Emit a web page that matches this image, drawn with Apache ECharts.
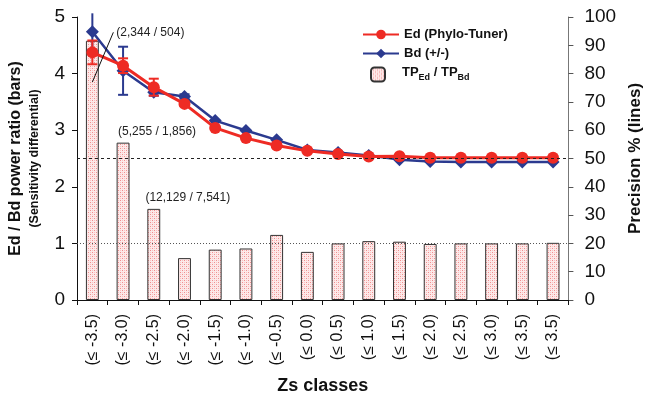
<!DOCTYPE html>
<html>
<head>
<meta charset="utf-8">
<script src="https://cdn.jsdelivr.net/npm/echarts@6/dist/echarts.min.js"></script>
<style>
  html, body { margin: 0; padding: 0; background: #fff; }
  #chart { width: 652px; height: 403px; }
</style>
</head>
<body>
<div id="chart"></div>
<script>
// Zs class labels along the x axis
const zsClasses = ['(≤ -3.5)', '(≤ -3.0)', '(≤ -2.5)', '(≤ -2.0)', '(≤ -1.5)', '(≤ -1.0)', '(≤ -0.5)', '(≤ 0.0)',
                   '(≤ 0.5)', '(≤ 1.0)', '(≤ 1.5)', '(≤ 2.0)', '(≤ 2.5)', '(≤ 3.0)', '(≤ 3.5)', '(≤ 3.5)'];

// Ed / Bd power ratio (bars, left axis)
const powerRatio = [4.58, 2.78, 1.61, 0.74, 0.89, 0.91, 1.15, 0.85, 1.00, 1.04, 1.03, 0.99, 1.00, 1.00, 1.00, 1.01];

// TP counts written above the first bars
const tpCounts = ['(2,344 / 504)', '(5,255 / 1,856)', '(12,129 / 7,541)'];

// Precision % (lines, right axis) with half-widths of the error bars
const edPrecision = [87.5, 82.8, 75.2, 69.3, 60.8, 57.2, 54.6, 52.7, 51.6, 50.7, 50.8, 50.3, 50.3, 50.3, 50.3, 50.3];
const edError     = [4.2, 2.6, 3.0, 0.8, 0, 0, 0, 0, 0, 0, 0, 0, 0, 0, 0, 0];
const bdPrecision = [94.8, 81.0, 73.4, 71.9, 63.4, 59.9, 56.6, 53.0, 52.1, 51.1, 49.6, 48.9, 48.8, 48.8, 48.8, 48.8];
const bdError     = [6.5, 8.5, 1.2, 0.8, 0, 0, 0, 0, 0, 0, 0, 0, 0, 0, 0, 0];

// Left / right axis ranges
const ratioAxis = { min: 0, max: 5, interval: 1 };
const precisionAxis = { min: 0, max: 100, interval: 10 };

const RED = '#ee2b24';
const BLUE = '#2b3a8f';
const FONT = 'Liberation Sans, Arial, sans-serif';

// Dotted pink fill used for the bars
function dotPattern() {
  const c = document.createElement('canvas');
  c.width = 4; c.height = 4;
  const g = c.getContext('2d');
  g.fillStyle = '#fde9e9';
  g.fillRect(0, 0, 4, 4);
  g.fillStyle = '#f08f8f';
  g.fillRect(0, 0, 1, 1);
  g.fillRect(2, 2, 1, 1);
  g.fillStyle = '#f8c4c4';
  g.fillRect(2, 0, 1, 1);
  g.fillRect(0, 2, 1, 1);
  return { image: c, repeat: 'repeat' };
}
const barFill = dotPattern();

function errorRenderer(color) {
  return function (params, api) {
    const i = api.value(0), v = api.value(1), e = api.value(2);
    if (!e) return null;
    const top = api.coord([i, v + e]);
    const bot = api.coord([i, v - e]);
    const cap = 5;
    const style = { stroke: color, lineWidth: 2 };
    const children = [
      { type: 'line', shape: { x1: top[0], y1: top[1], x2: bot[0], y2: bot[1] }, style }
    ];
    if (v + e <= precisionAxis.max) {
      children.push({ type: 'line', shape: { x1: top[0] - cap, y1: top[1], x2: top[0] + cap, y2: top[1] }, style });
    }
    children.push({ type: 'line', shape: { x1: bot[0] - cap, y1: bot[1], x2: bot[0] + cap, y2: bot[1] }, style });
    return { type: 'group', children };
  };
}

const barData = powerRatio.map((v, i) => {
  const item = { value: v };
  if (tpCounts[i]) {
    item.label = {
      show: true,
      position: 'top',
      formatter: tpCounts[i],
      offset: i === 0 ? [58, 3] : [34, 0],
      fontSize: 12,
      color: '#222',
      fontFamily: FONT
    };
  }
  return item;
});

const chart = echarts.init(document.getElementById('chart'), null, { renderer: 'canvas' });

chart.setOption({
  animation: false,
  backgroundColor: '#fff',
  textStyle: { fontFamily: FONT },
  grid: { left: 77, right: 69, top: 17, bottom: 103, containLabel: false },
  legend: [
    {
      data: ['Ed (Phylo-Tuner)', 'Bd (+/-)'],
      orient: 'vertical',
      left: 357,
      top: 23,
      itemWidth: 36,
      itemHeight: 12,
      itemGap: 6,
      textStyle: { fontSize: 13, fontWeight: 'bold', color: '#111', fontFamily: FONT },
      selectedMode: false
    },
    {
      data: ['TP_Ed / TP_Bd'],
      left: 365,
      top: 61,
      itemWidth: 14,
      itemHeight: 14,
      selectedMode: false,
      formatter: () => '{f|TP}{s|Ed}{m| / TP}{s|Bd}',
      textStyle: {
        fontFamily: FONT,
        rich: {
          f: { fontSize: 13, fontWeight: 'bold', color: '#111', fontFamily: FONT, padding: [0, 0, 4, 12] },
          m: { fontSize: 13, fontWeight: 'bold', color: '#111', fontFamily: FONT, padding: [0, 0, 4, 0] },
          s: { fontSize: 9, fontWeight: 'bold', color: '#111', fontFamily: FONT, padding: [6, 0, 0, 0] }
        }
      }
    }
  ],
  xAxis: {
    type: 'category',
    data: zsClasses,
    name: 'Zs classes',
    nameLocation: 'middle',
    nameGap: 77,
    nameTextStyle: { fontSize: 18, fontWeight: 'bold', color: '#111', fontFamily: FONT },
    axisLine: { lineStyle: { color: '#111', width: 1 } },
    axisTick: { show: true, alignWithLabel: false, length: 5, lineStyle: { color: '#111' } },
    axisLabel: { rotate: 90, fontSize: 16, color: '#111', margin: 14, fontFamily: FONT },
    splitLine: { show: false }
  },
  yAxis: [
    {
      type: 'value',
      min: ratioAxis.min, max: ratioAxis.max, interval: ratioAxis.interval,
      position: 'left',
      name: '{a|Ed / Bd power ratio (bars)}\n{b|(Sensitivity differential)}',
      nameLocation: 'middle',
      nameGap: 34,
      nameTextStyle: {
        fontFamily: FONT,
        rich: {
          a: { fontSize: 16, fontWeight: 'bold', color: '#111', fontFamily: FONT, lineHeight: 20 },
          b: { fontSize: 12.5, fontWeight: 'bold', color: '#111', fontFamily: FONT, lineHeight: 17 }
        }
      },
      axisLine: { show: true, lineStyle: { color: '#111', width: 1 } },
      axisTick: { show: true, length: 5, lineStyle: { color: '#111' } },
      axisLabel: { fontSize: 19, color: '#111', margin: 12, fontFamily: FONT },
      splitLine: { show: false }
    },
    {
      type: 'value',
      min: precisionAxis.min, max: precisionAxis.max, interval: precisionAxis.interval,
      position: 'right',
      name: 'Precision % (lines)',
      nameLocation: 'middle',
      nameGap: 48,
      nameRotate: 90,
      nameTextStyle: { fontSize: 17, fontWeight: 'bold', color: '#111', fontFamily: FONT },
      axisLine: { show: true, lineStyle: { color: '#777', width: 1 } },
      axisTick: { show: true, length: 5, lineStyle: { color: '#555' } },
      axisLabel: { fontSize: 19, color: '#111', margin: 16, fontFamily: FONT },
      splitLine: { show: false }
    }
  ],
  series: [
    {
      name: 'TP_Ed / TP_Bd',
      type: 'bar',
      yAxisIndex: 0,
      barWidth: '42%',
      data: barData,
      itemStyle: { color: barFill, borderColor: '#333', borderWidth: 1 },
      markLine: {
        silent: true,
        symbol: 'none',
        label: { show: false },
        lineStyle: { color: '#555', type: [1, 2], width: 1 },
        data: [{ yAxis: 1 }]
      },
      z: 1
    },
    {
      name: 'Bd (+/-)',
      type: 'line',
      yAxisIndex: 1,
      data: bdPrecision,
      symbol: 'diamond',
      symbolSize: 13,
      lineStyle: { color: BLUE, width: 2.5 },
      itemStyle: { color: BLUE },
      z: 3
    },
    {
      type: 'custom',
      yAxisIndex: 1,
      clip: false,
      renderItem: errorRenderer(BLUE),
      data: bdPrecision.map((v, i) => [i, v, bdError[i]]),
      z: 3
    },
    {
      name: 'Ed (Phylo-Tuner)',
      type: 'line',
      yAxisIndex: 1,
      data: edPrecision,
      symbol: 'circle',
      symbolSize: 12,
      lineStyle: { color: RED, width: 3 },
      itemStyle: { color: RED },
      markLine: {
        silent: true,
        symbol: 'none',
        label: { show: false },
        lineStyle: { color: '#222', type: [3, 3], width: 1 },
        data: [{ yAxis: 50 }]
      },
      z: 4
    },
    {
      type: 'custom',
      yAxisIndex: 1,
      clip: false,
      renderItem: errorRenderer(RED),
      data: edPrecision.map((v, i) => [i, v, edError[i]]),
      z: 4
    }
  ]
});

// Leader line from the first count label down into its bar
const leadFrom = chart.convertToPixel({ xAxisIndex: 0, yAxisIndex: 0 }, [0, 4.73]);
const leadTo = chart.convertToPixel({ xAxisIndex: 0, yAxisIndex: 0 }, [0, 3.85]);
chart.setOption({
  graphic: [{
    type: 'line',
    shape: { x1: leadFrom[0] + 21, y1: leadFrom[1], x2: leadTo[0], y2: leadTo[1] },
    style: { stroke: '#111', lineWidth: 1 },
    z: 10
  }]
});
</script>
</body>
</html>
